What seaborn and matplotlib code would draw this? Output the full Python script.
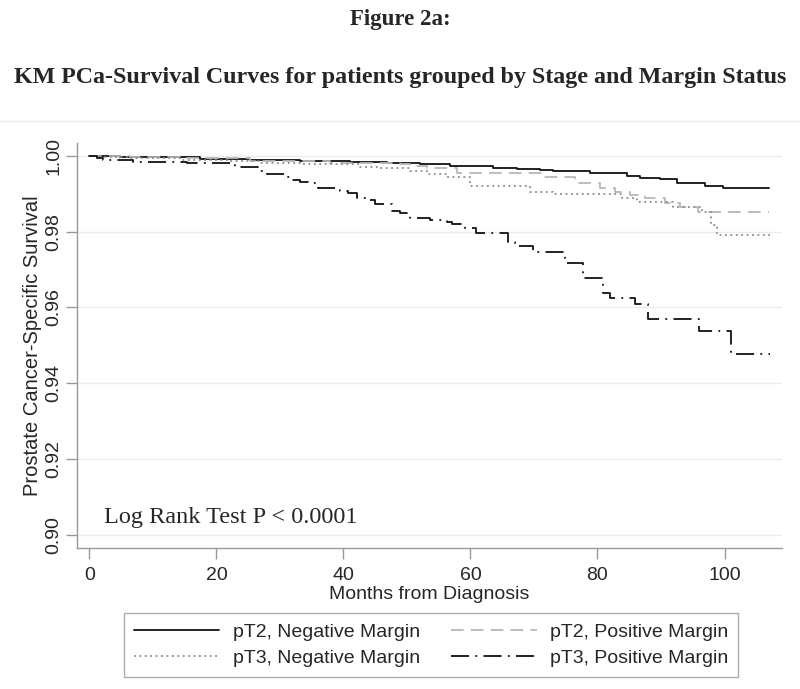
import numpy as np
import pandas as pd
import matplotlib
matplotlib.use("Agg")
import matplotlib.pyplot as plt
import seaborn as sns

# ---- Data ----
t_pt2_neg = [0, 4.8, 9.6, 17.4, 25.3, 33.2, 41.1, 46.9, 52.1, 56.8, 63.6, 67.4, 71.0, 73.0, 78.8, 84.7, 86.7, 89.9, 92.5, 97.0, 99.8, 107.0]
s_pt2_neg = [1.0, 0.99982, 0.99966, 0.99921, 0.99894, 0.99876, 0.99842, 0.99807, 0.99776, 0.99744, 0.99691, 0.99649, 0.99631, 0.99604, 0.99559, 0.99472, 0.99427, 0.99385, 0.99296, 0.99216, 0.99148, 0.99148]

t_pt2_pos = [0, 6.4, 14.3, 25.3, 37.9, 48.9, 50.5, 53.2, 57.9, 71.8, 76.5, 80.4, 82.8, 85.1, 87.5, 90.7, 93.0, 95.8, 107.0]
s_pt2_pos = [1.0, 0.99974, 0.99934, 0.99868, 0.99823, 0.99776, 0.99744, 0.99675, 0.99559, 0.99438, 0.99280, 0.99148, 0.99058, 0.98971, 0.98892, 0.98760, 0.98654, 0.98530, 0.98530]

t_pt3_neg = [0, 1.7, 6.4, 14.3, 22.2, 26.9, 33.2, 42.6, 45.8, 50.5, 53.2, 56.3, 59.9, 69.4, 73.0, 83.9, 86.2, 91.9, 96.5, 97.9, 98.8, 107.2]
s_pt3_neg = [1.0, 0.99974, 0.99934, 0.99894, 0.99855, 0.99815, 0.99789, 0.99718, 0.99670, 0.99596, 0.99517, 0.99438, 0.99216, 0.99058, 0.98989, 0.98900, 0.98778, 0.98646, 0.98530, 0.98179, 0.97908, 0.97908]

t_pt3_pos = [0, 1.17, 2.16, 6.9, 15.4, 23.0, 26.6, 28.0, 30.8, 31.9, 33.2, 35.1, 36.0, 39.5, 40.7, 42.2, 43.9, 45.0, 47.7, 48.9, 50.5, 53.7, 56.3, 57.1, 59.2, 60.9, 65.9, 67.0, 69.9, 74.9, 77.7, 80.9, 82.0, 85.9, 87.9, 96.0, 101.0, 107.2]
s_pt3_pos = [1.0, 0.99955, 0.99894, 0.99834, 0.99810, 0.99718, 0.99604, 0.99517, 0.99454, 0.99367, 0.99306, 0.99280, 0.99164, 0.99077, 0.99016, 0.98900, 0.98839, 0.98726, 0.98549, 0.98488, 0.98372, 0.98311, 0.98251, 0.98198, 0.98108, 0.97976, 0.97739, 0.97633, 0.97459, 0.97169, 0.96789, 0.96377, 0.96261, 0.96087, 0.95699, 0.95391, 0.94776, 0.94776]

series_labels = ["pT2, Negative Margin", "pT2, Positive Margin", "pT3, Negative Margin", "pT3, Positive Margin"]
y_ticks = [0.90, 0.92, 0.94, 0.96, 0.98, 1.00]
x_ticks = [0, 20, 40, 60, 80, 100]

title_1 = "Figure 2a:"
title_2 = "KM PCa-Survival Curves for patients grouped by Stage and Margin Status"
x_label = "Months from Diagnosis"
y_label = "Prostate Cancer-Specific Survival"
note = "Log Rank Test P < 0.0001"

# ---- Build long table ----
frames = []
for lab, t, s in zip(series_labels,
                     [t_pt2_neg, t_pt2_pos, t_pt3_neg, t_pt3_pos],
                     [s_pt2_neg, s_pt2_pos, s_pt3_neg, s_pt3_pos]):
    frames.append(pd.DataFrame({"months": t, "survival": s, "group": lab}))
df = pd.concat(frames, ignore_index=True)

sns.set_style("white")
plt.rcParams["font.family"] = ["Liberation Sans", "DejaVu Sans"]

fig = plt.figure(figsize=(8.0, 6.89), dpi=100)
ax = fig.add_axes([0.0966, 0.2051, 0.8805, 0.5874])

styles = {
    "pT2, Negative Margin": dict(color="#111111", linestyle="-", linewidth=1.3),
    "pT2, Positive Margin": dict(color="#b8b8b8", linestyle=(0, (7, 4)), linewidth=1.3),
    "pT3, Negative Margin": dict(color="#8a8a8a", linestyle=(0, (1, 2)), linewidth=1.3),
    "pT3, Positive Margin": dict(color="#111111", linestyle=(0, (10, 3.5, 1, 3.5)), linewidth=1.3),
}

for lab in series_labels:
    sub = df[df["group"] == lab]
    sns.lineplot(data=sub, x="months", y="survival", ax=ax, estimator=None, sort=False,
                 drawstyle="steps-post", label=lab, **styles[lab])

ax.set_xlim(-1.9, 109.0)
ax.set_ylim(0.8966, 1.0034)
ax.set_xticks(x_ticks)
ax.set_yticks(y_ticks)
ax.set_yticklabels([f"{v:.2f}" for v in y_ticks], rotation=90, va="center")
ax.set_xticklabels([str(v) for v in x_ticks])
ax.tick_params(axis="both", which="major", labelsize=14, direction="out", length=8,
               width=1, color="#999999", left=True, bottom=True)
ax.tick_params(axis="x", pad=6)
ax.tick_params(axis="y", pad=3)
ax.yaxis.grid(True, color="#ececec", linewidth=1)
ax.xaxis.grid(False)
for side in ["top", "right"]:
    ax.spines[side].set_visible(False)
for side in ["left", "bottom"]:
    ax.spines[side].set_color("#999999")
    ax.spines[side].set_linewidth(1)

ax.set_xlabel(x_label, fontsize=14, labelpad=1)
ax.set_ylabel(y_label, fontsize=14.5, labelpad=2)

ax.text(104 / 800, 1 - 518 / 689, note, transform=fig.transFigure, ha="left", va="center",
        fontsize=17.5, family=["Liberation Serif", "DejaVu Serif"])

ax.get_legend().remove()
handles, labels = ax.get_legend_handles_labels()
hmap = dict(zip(labels, handles))
order = ["pT2, Negative Margin", "pT3, Negative Margin", "pT2, Positive Margin", "pT3, Positive Margin"]
leg = fig.legend([hmap[k] for k in order], order, loc="center", bbox_to_anchor=(0.539, 0.0639), ncol=2,
                 fontsize=14, frameon=True, fancybox=False, edgecolor="#999999",
                 handlelength=4.4, columnspacing=1.6, handletextpad=0.7, labelspacing=0.45,
                 borderpad=0.5)
leg.get_frame().set_linewidth(1)

fig.text(0.5, 1 - 20 / 689, title_1, ha="center", va="center", fontsize=16.5, fontweight="bold",
         family=["Liberation Serif", "DejaVu Serif"])
fig.text(0.5, 1 - 77 / 689, title_2, ha="center", va="center", fontsize=17.3, fontweight="bold",
         family=["Liberation Serif", "DejaVu Serif"])
fig.add_artist(plt.Line2D([0, 1], [1 - 121 / 689, 1 - 121 / 689], transform=fig.transFigure,
                          color="#eeeeee", linewidth=1))

fig.savefig("out.png", dpi=100, facecolor="white")
